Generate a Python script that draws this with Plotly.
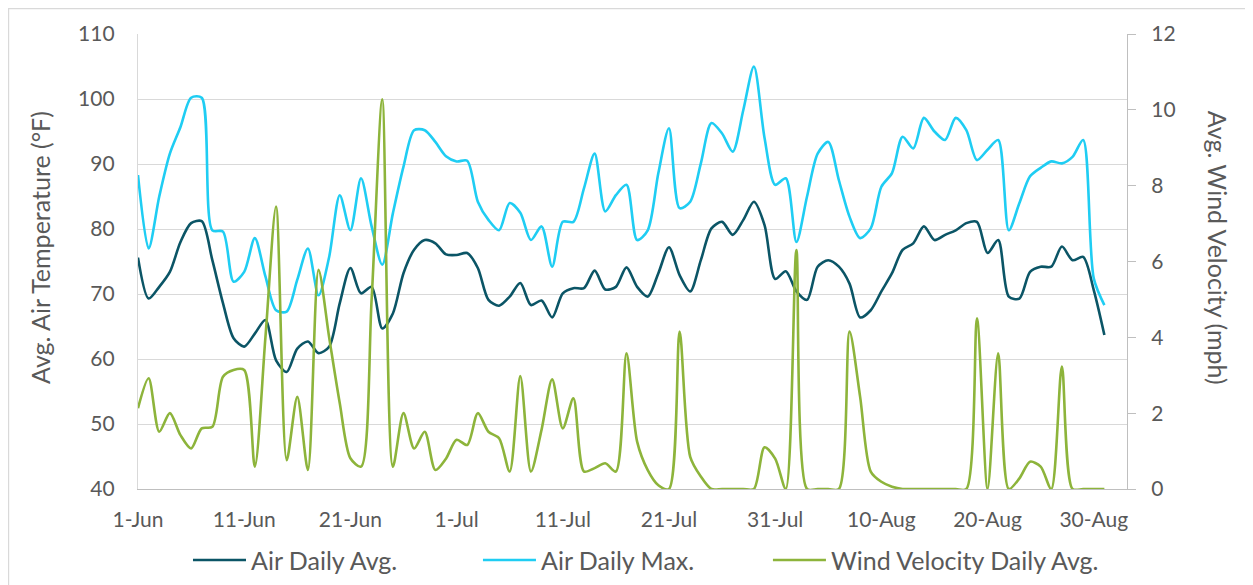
import pandas as pd
import plotly.graph_objects as go

# daily values, 1-Jun .. 31-Aug
dates = pd.date_range("2023-06-01", "2023-08-31", freq="D")

air_avg = [
    75.6, 69.3, 71.1, 73.4, 78.0, 80.9, 81.2, 75.2, 68.6, 63.2,
    61.9, 63.9, 66.0, 59.8, 58.0, 61.6, 62.7, 60.9, 61.9, 68.6,
    74.0, 70.1, 71.1, 64.7, 67.0, 73.2, 76.8, 78.3, 77.8, 76.1,
    76.0, 76.3, 74.0, 69.1, 68.2, 69.6, 71.7, 68.3, 69.0, 66.4,
    70.1, 70.9, 70.9, 73.6, 70.7, 71.1, 74.1, 71.1, 69.6, 73.2,
    77.2, 72.9, 70.4, 75.2, 80.1, 81.1, 79.1, 81.4, 84.2, 80.6,
    72.3, 73.5, 70.4, 69.1, 74.2, 75.2, 74.2, 71.6, 66.4, 67.5,
    70.4, 73.2, 76.8, 77.8, 80.4, 78.3, 79.1, 79.8, 80.9, 81.1,
    76.3, 78.3, 69.6, 69.3, 73.4, 74.2, 74.2, 77.3, 75.2, 75.7,
    70.6, 63.7,
]

air_max = [
    88.3, 77.0, 85.0, 91.6, 95.7, 100.2, 100.2, 79.8, 79.6, 71.9,
    73.4, 78.6, 72.7, 67.5, 67.3, 72.2, 77.0, 69.8, 75.7, 85.2,
    79.8, 87.8, 80.4, 74.5, 82.4, 89.6, 95.2, 95.2, 93.4, 91.2,
    90.4, 90.5, 84.2, 81.4, 79.8, 84.0, 82.5, 78.3, 80.4, 74.2,
    81.1, 81.1, 86.3, 91.6, 82.7, 85.2, 86.8, 78.3, 79.8, 88.6,
    95.5, 83.2, 84.2, 90.1, 96.3, 94.7, 91.9, 98.3, 105.0, 94.0,
    86.8, 87.8, 78.0, 85.0, 91.6, 93.4, 87.5, 81.9, 78.6, 80.1,
    86.5, 88.6, 94.2, 92.4, 97.1, 95.0, 93.7, 97.1, 95.2, 90.6,
    92.2, 93.7, 79.8, 84.0, 88.1, 89.4, 90.4, 90.1, 91.1, 93.7,
    72.4, 68.3,
]

wind_avg = [
    2.13, 2.92, 1.51, 2.00, 1.42, 1.07, 1.60, 1.64, 2.96, 3.14,
    3.14, 0.59, 4.00, 7.45, 0.76, 2.43, 0.50, 5.78, 4.00, 2.26,
    0.81, 0.59, 5.00, 10.28, 0.59, 2.00, 1.07, 1.51, 0.50, 0.80,
    1.30, 1.16, 2.00, 1.51, 1.34, 0.46, 2.98, 0.46, 1.56, 2.89,
    1.60, 2.39, 0.46, 0.55, 0.68, 0.46, 3.58, 1.25, 0.50, 0.10,
    0.00, 4.15, 0.85, 0.33, 0.00, 0.00, 0.00, 0.00, 0.00, 1.10,
    0.80, 0.00, 6.30, 0.00, 0.00, 0.00, 0.00, 4.15, 2.43, 0.46,
    0.19, 0.06, 0.00, 0.00, 0.00, 0.00, 0.00, 0.00, 0.00, 4.50,
    0.00, 3.58, 0.00, 0.28, 0.72, 0.59, 0.00, 3.23, 0.00, 0.00,
    0.00, 0.00,
]

tick_dates = pd.date_range("2023-06-01", periods=10, freq="10D")

series_names = ["Air Daily Avg.", "Air Daily Max.", "Wind Velocity Daily Avg."]
series_colors = ["#0B5566", "#1FCDF3", "#8DB43B"]

FONT = "Lato"
GREY = "#595959"

fig = go.Figure()

for name, vals, color, yax in zip(series_names, [air_avg, air_max, wind_avg],
                                  series_colors, ["y", "y", "y2"]):
    fig.add_trace(go.Scatter(x=dates, y=vals, name=name, mode="lines", yaxis=yax,
                             showlegend=False,
                             line=dict(color=color, width=2.6, shape="spline", smoothing=0.8)))

# legend drawn by hand so the sample lines match the long Excel-style swatches
legend_shapes = []
legend_notes = []
for i, (name, color) in enumerate(zip(series_names, series_colors)):
    x0 = 0.0556 + i * 0.2932
    legend_shapes.append(dict(type="line", xref="paper", yref="paper",
                              x0=x0, x1=x0 + 0.0536, y0=-0.156, y1=-0.156,
                              line=dict(color=color, width=2.6)))
    legend_notes.append(dict(text=name, xref="paper", yref="paper",
                             x=x0 + 0.0566, y=-0.156, xanchor="left", yanchor="middle",
                             showarrow=False, font=dict(size=25, color=GREY)))

fig.update_layout(
    width=1245, height=577,
    margin=dict(l=130, r=126, t=26, b=96, autoexpand=False),
    paper_bgcolor="white", plot_bgcolor="white",
    font=dict(family=FONT, color=GREY, size=21),
    showlegend=False,
    xaxis=dict(
        range=[pd.Timestamp("2023-06-01"), pd.Timestamp("2023-06-01") + pd.Timedelta(days=93.13)],
        tickvals=tick_dates, tickformat="%-d-%b",
        showgrid=False, showline=True, linecolor="#BFBFBF", linewidth=1.3,
        ticks="", ticklabelstandoff=12, tickfont=dict(size=21, color=GREY),
    ),
    yaxis=dict(
        range=[40, 110], dtick=10,
        showgrid=True, gridcolor="#D9D9D9", gridwidth=1.3,
        showline=True, linecolor="#D9D9D9", linewidth=1.3,
        zeroline=False, ticks="", ticklabelstandoff=18,
        tickfont=dict(size=21, color=GREY),
    ),
    yaxis2=dict(
        range=[0, 12], dtick=2, overlaying="y", side="right",
        showgrid=False, zeroline=False,
        showline=True, linecolor="#BFBFBF", linewidth=1.3,
        ticks="outside", ticklen=8, tickcolor="#BFBFBF", tickwidth=1.3,
        ticklabelstandoff=11, tickfont=dict(size=21, color=GREY),
    ),
    annotations=legend_notes + [
        dict(text="Avg. Air Temperature (°F)", xref="paper", yref="paper",
             x=-0.099, y=0.53, xanchor="center", yanchor="middle", textangle=-90,
             showarrow=False, font=dict(size=25, color=GREY)),
        dict(text="Avg. Wind Velocity (mph)", xref="paper", yref="paper",
             x=1.092, y=0.53, xanchor="center", yanchor="middle", textangle=90,
             showarrow=False, font=dict(size=25, color=GREY)),
    ],
    shapes=legend_shapes + [
        dict(type="rect", xref="paper", yref="paper",
             x0=-0.1309, x1=1.2, y0=-0.3, y1=1.056,
             line=dict(color="#D9D9D9", width=1.3), layer="below"),
    ],
)

fig.write_html("out.html")
